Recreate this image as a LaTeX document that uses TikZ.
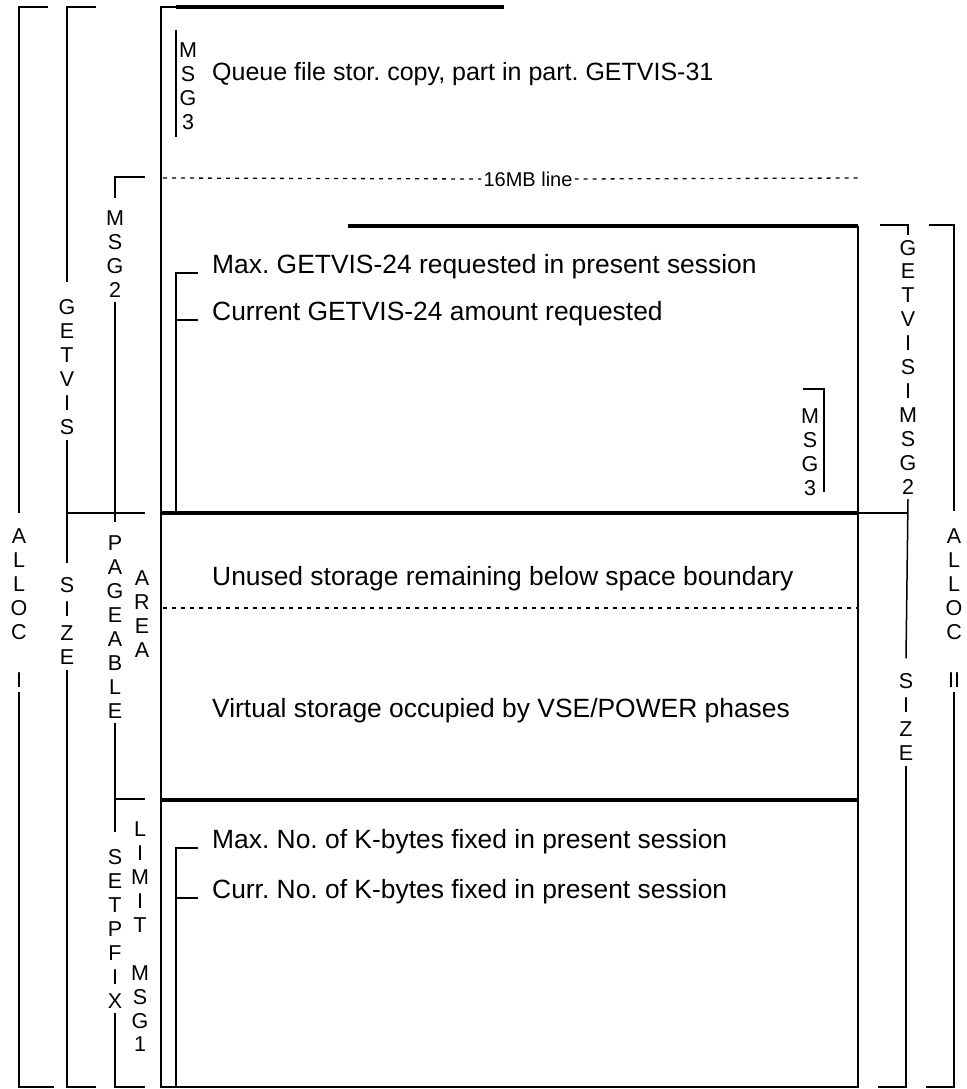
\documentclass[tikz,border=0pt]{standalone}
\usepackage{fontspec}
\setmainfont{Liberation Sans}
\usetikzlibrary{positioning}
\frenchspacing
\tikzset{
  bracket/.style={line width=1.5pt},
  frame/.style={line width=2.2pt},
  boundary/.style={line width=4pt},
  dotline/.style={line width=1.3pt,dash pattern=on 4pt off 5pt},
  entry/.style={anchor=base west,inner sep=0pt,font=\fontsize{26.4}{30}\selectfont},
  letters/.style={align=center,inner xsep=1pt,inner ysep=5pt,font=\fontsize{21.5}{23.9}\selectfont},
}

\begin{document}
\begin{tikzpicture}[x=1pt,y=-1pt]
  \useasboundingbox (0,0) rectangle (966,1089);

  % storage frame and boundaries
  \draw[frame] (176,7) -- (161,7) -- (161,1087) -- (858,1087) -- (858,226);
  \draw[boundary] (176,7.5) -- (504,7.5);
  \draw[boundary] (348,226) -- (858,226);
  \draw[boundary] (161,513) -- (858,513);
  \draw[boundary] (161,800) -- (858,800);

  \node[font=\fontsize{20}{24}\selectfont,inner sep=2pt] (mbline) at (528,179) {16MB line};
  \draw[dotline] (163,178) -- (mbline.west);
  \draw[dotline] (mbline.east) -- (858,178);
  \draw[dotline] (163,608) -- (858,608);

  % texts inside the frame
  \node[entry,font=\fontsize{25}{30}\selectfont] (queue) at (212,81) {Queue file stor. copy, part in part. GETVIS-31};
  \node[entry] (maxvis) at (212,273) {Max. GETVIS-24 requested in present session};
  \node[entry] (curvis) at (212,320) {Current GETVIS-24 amount requested};
  \node[entry] (unused) at (212,585) {Unused storage remaining below space boundary};
  \node[entry] (phases) at (212,717) {Virtual storage occupied by VSE/POWER phases};
  \node[entry] (maxfix) at (212,848) {Max. No. of K-bytes fixed in present session};
  \node[entry] (curfix) at (212,898) {Curr. No. of K-bytes fixed in present session};

  \draw[bracket] ([xshift=-14pt]maxvis.base west) -| (176,513);
  \draw[bracket] ([xshift=-14pt]curvis.base west) -- ++(-22,0);
  \draw[bracket] ([xshift=-14pt]maxfix.base west) -| (176,1087);
  \draw[bracket] ([xshift=-14pt]curfix.base west) -- ++(-22,0);

  \node[letters] (msgtop) at (188,86) {M\\S\\G\\3};
  \draw[bracket] (176,30) -- (176,137);
  \node[letters] (msgin) at (810,452) {M\\S\\G\\3};
  \draw[bracket] (803,389) -| (824,492);

  % left side
  \node[letters] (allocl) at (19,608) {A\\L\\L\\O\\C\\[23.9pt]I};
  \draw[bracket] (48,7) -| ([yshift=11pt]allocl.north);
  \draw[bracket] (allocl.south) |- (54,1087);

  \node[letters] (getvis) at (67,367) {G\\E\\T\\V\\I\\S};
  \node[letters] (sizel) at (67,621) {S\\I\\Z\\E};
  \draw[bracket] (96,7) -| ([yshift=12pt]getvis.north);
  \draw[bracket] (getvis.south) -- ([yshift=9pt]sizel.north);
  \draw[bracket] (getvis.south |- 0,513) -- (145,513);
  \draw[bracket] (sizel.south) |- (96,1087);

  \node[letters] (msgl) at (115,254) {M\\S\\G\\2};
  \node[letters] (pageable) at (115,627) {P\\A\\G\\E\\A\\B\\L\\E};
  \node[letters] (setpfix) at (115,929) {S\\E\\T\\P\\F\\I\\X};
  \draw[bracket] (145,177) -| ([yshift=8pt]msgl.north);
  \draw[bracket] (msgl.south) -- ([yshift=9pt]pageable.north);
  \draw[bracket] (pageable.south) -- ([yshift=13pt]setpfix.north);
  \draw[bracket] (pageable.south |- 0,799) -- (145,799);
  \draw[bracket] (setpfix.south) |- (145,1087);

  \node[letters] (area) at (142,614) {A\\R\\E\\A};
  \node[letters] (limit) at (140,937) {L\\I\\M\\I\\T\\[23.9pt]M\\S\\G\\1};

  % right side
  \node[letters] (visr) at (908,367) {G\\E\\T\\V\\I\\S\\I\\M\\S\\G\\2};
  \node[letters] (sizer) at (906,717) {S\\I\\Z\\E};
  \draw[bracket] (880,225) -| (visr.north);
  \draw[bracket] (visr.south) -- ([yshift=10pt]sizer.north);
  \draw[bracket] (858,513) -- (visr.south |- 0,513);
  \draw[bracket] (sizer.south) |- (878,1087);

  \node[letters] (allocr) at (954,608) {A\\L\\L\\O\\C\\[23.9pt]II};
  \draw[bracket] (929,225) -| ([yshift=13pt]allocr.north);
  \draw[bracket] (allocr.south) |- (926,1087);
\end{tikzpicture}
\end{document}
